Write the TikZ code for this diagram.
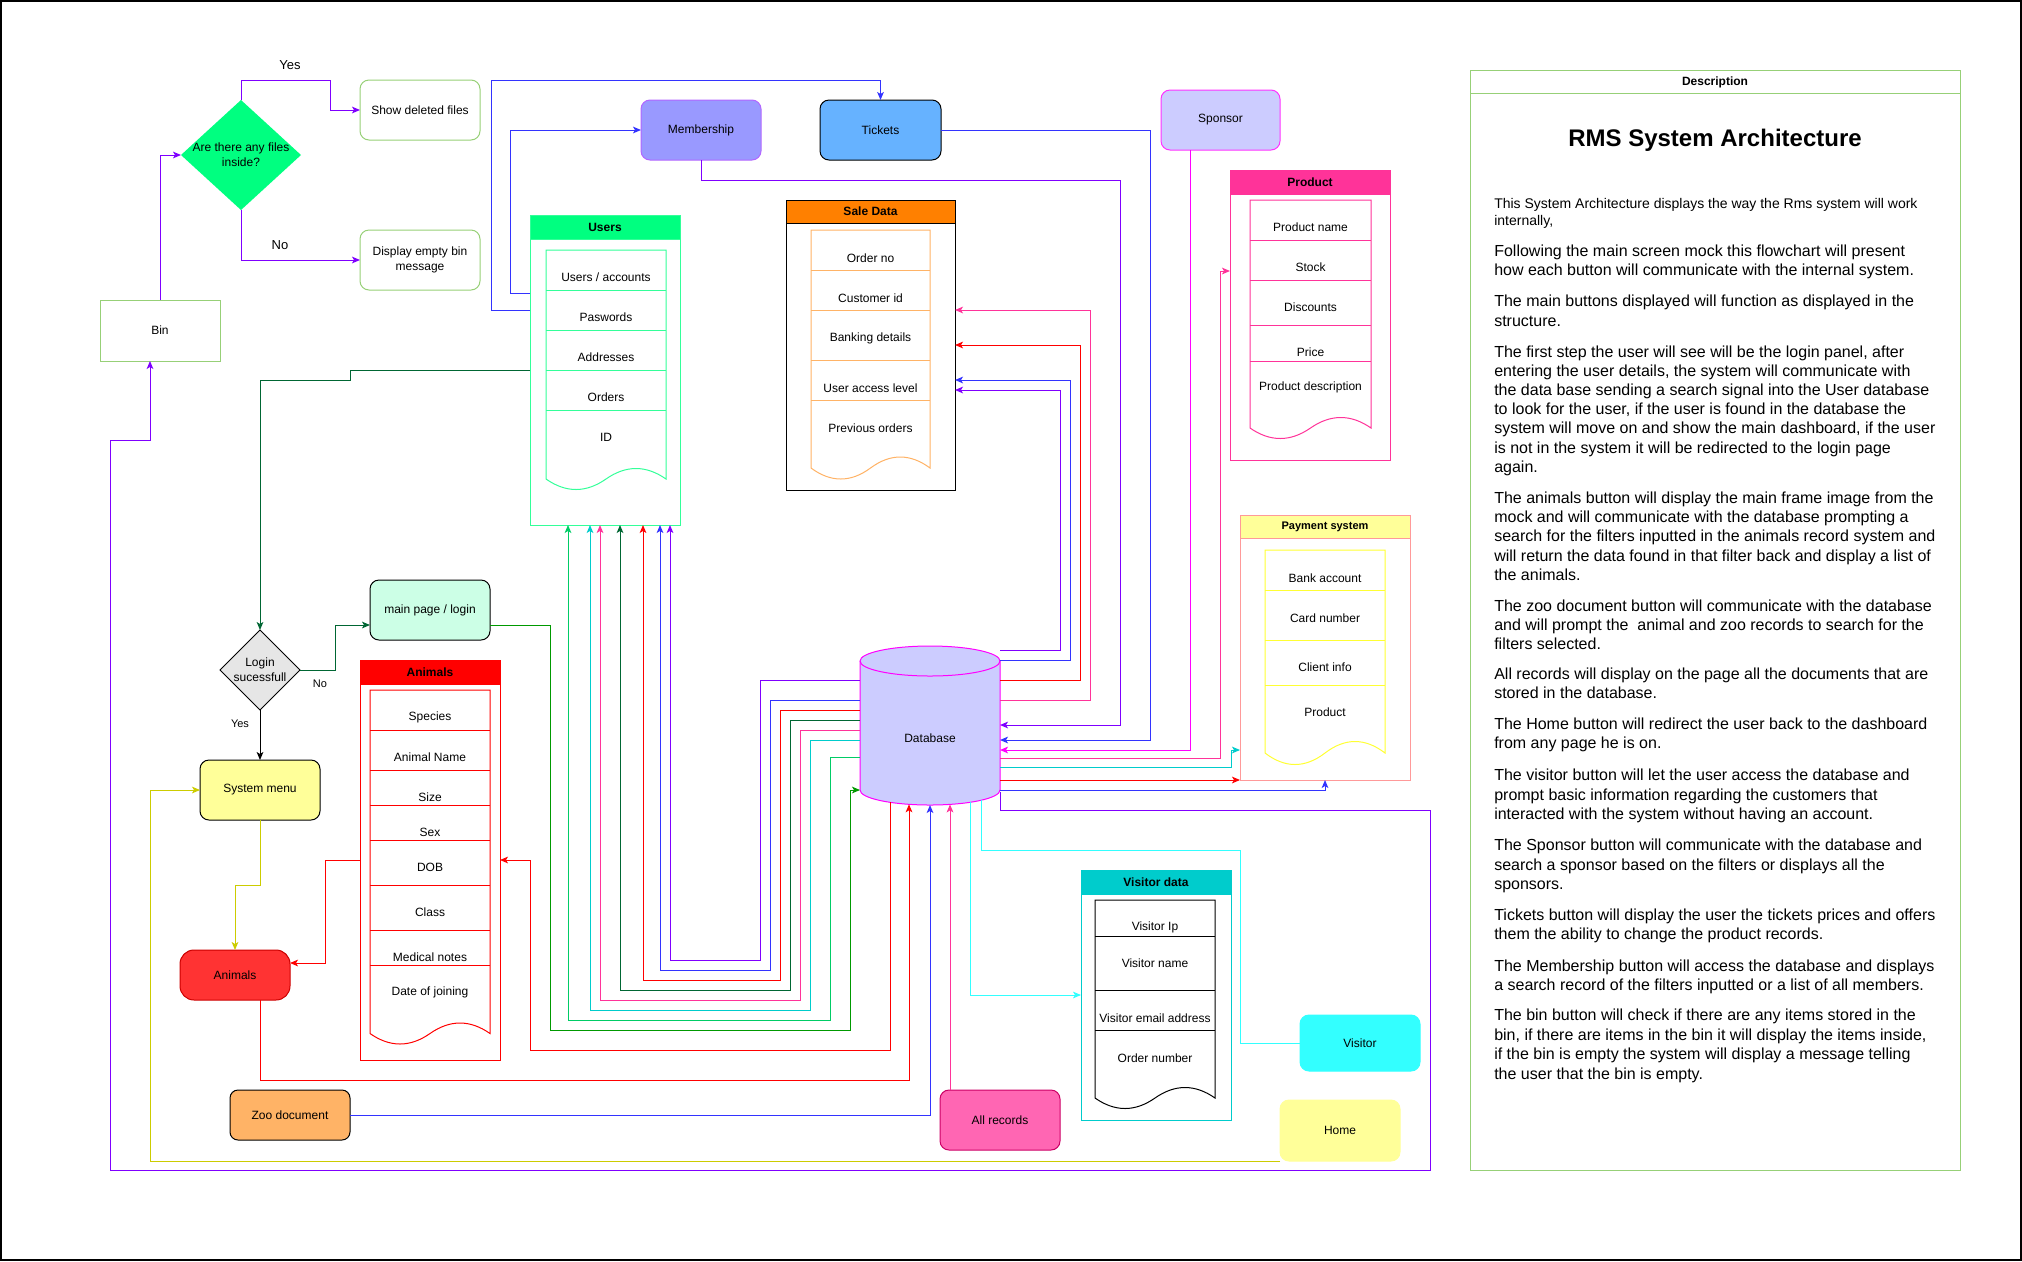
\documentclass[tikz,border=0pt]{standalone}
\usepackage{fontspec}
\setmainfont{Liberation Sans}
\usetikzlibrary{arrows.meta,shapes.geometric}

\definecolor{cPurple}{HTML}{7F00FF}
\definecolor{cBlue}{HTML}{3333FF}
\definecolor{cRed}{HTML}{FF0000}
\definecolor{cDkGreen}{HTML}{006633}
\definecolor{cPink}{HTML}{FF3399}
\definecolor{cCyan}{HTML}{00CCCC}
\definecolor{cLtGreen}{HTML}{00CC66}
\definecolor{cGreen}{HTML}{009900}
\definecolor{cYel}{HTML}{CCCC00}
\definecolor{cMag}{HTML}{FF00FF}
\definecolor{cAqua}{HTML}{33FFFF}
\definecolor{cBoxGreen}{HTML}{97D077}
\definecolor{cSpring}{HTML}{00FF80}
\definecolor{cUsersLine}{HTML}{33FF99}
\definecolor{cOrange}{HTML}{FF8000}
\definecolor{cLtOrange}{HTML}{FFB366}
\definecolor{cSalmon}{HTML}{FF9999}
\definecolor{cLtYellow}{HTML}{FFFF99}
\definecolor{cYellow}{HTML}{FFFF33}
\definecolor{cLav}{HTML}{CCCCFF}
\definecolor{cMembFill}{HTML}{9999FF}
\definecolor{cMembLine}{HTML}{B266FF}
\definecolor{cTickets}{HTML}{66B2FF}
\definecolor{cMint}{HTML}{CCFFE6}
\definecolor{cGray}{HTML}{E6E6E6}
\definecolor{cAnimBtn}{HTML}{FF3333}
\definecolor{cAnimBtnLine}{HTML}{CC0000}
\definecolor{cAllRec}{HTML}{FF66B3}
\definecolor{cAllRecLine}{HTML}{CC0066}
\definecolor{cSponsorLine}{HTML}{FF33FF}

% inner "document" column: x1, top, x2, end-y of wave, amplitude, colour
\newcommand{\docwave}[6]{%
  \draw[#6, line width=0.75pt, fill=white] (#1,#4) -- (#1,#2) -- (#3,#2) -- (#3,#4)
    .. controls ({#3-(#3-#1)/6},{#4-4*#5/3}) and ({(#1+#3)/2+(#3-#1)/6},{#4-4*#5/3}) .. ({(#1+#3)/2},#4)
    .. controls ({(#1+#3)/2-(#3-#1)/6},{#4+4*#5/3}) and ({#1+(#3-#1)/6},{#4+4*#5/3}) .. (#1,#4) -- cycle;}

\begin{document}
\begin{tikzpicture}[x=0.75pt,y=-0.75pt,
  ln/.style={line width=0.75pt},
  arr/.style={-{Stealth[length=6pt,width=5pt,inset=1.5pt]}},
  f11/.style={font=\fontsize{8.25}{10}\selectfont},
  f12/.style={font=\fontsize{9}{11.25}\selectfont},
  f13/.style={font=\fontsize{9.75}{12}\selectfont},
  hb/.style={font=\fontsize{9}{11}\selectfont\bfseries},
  nb/.style={anchor=north west, inner sep=0pt, outer sep=0pt, line width=0.75pt, align=center, f12},
  rbox/.style={nb, rounded corners=6.75pt, minimum width=90pt, minimum height=45pt},
  lab/.style={f12, inner sep=0pt, align=center},
  dt/.style={anchor=mid west, inner sep=0pt, font=\fontsize{12}{14}\selectfont},
  dts/.style={anchor=mid west, inner sep=0pt, font=\fontsize{10.5}{12.5}\selectfont}
]
\useasboundingbox (0,0) rectangle (2022,1261);
\draw[black, line width=1.5pt] (1,1) rectangle (2021,1260);

% ---------------- bin / question ----------------
\node[nb, draw=cBoxGreen, fill=white, minimum width=90pt, minimum height=45.75pt] (bin) at (100,300) {Bin};
\node[diamond, fill=cSpring, minimum width=90pt, minimum height=82.5pt, inner sep=0pt, outer sep=0pt] (qd) at (241,155) {};
\node[lab] (qdt) at (241,155) {Are there any files\\inside?};
\node[rbox, draw=cBoxGreen, fill=white] (show) at (360,80) {Show deleted files};
\node[rbox, draw=cBoxGreen, fill=white] (empty) at (360,230) {Display empty bin\\message};

% ---------------- top buttons ----------------
\node[rbox, draw=cMembLine, fill=cMembFill] (memb) at (641,100) {Membership};
\node[rbox, draw=black, fill=cTickets, minimum width=90.75pt] (tickets) at (820,100) {Tickets};
\node[rbox, draw=cSponsorLine, fill=cLav, minimum width=89.25pt] (sponsor) at (1161,90) {Sponsor};

% ---------------- Users table ----------------
\node[nb, draw=cUsersLine, fill=white, minimum width=112.5pt, minimum height=232.5pt] (users) at (530,215) {};
\node[nb, draw=cUsersLine, fill=cSpring, minimum width=112.5pt, minimum height=18pt, hb] (usersH) at (530,215) {Users};
\docwave{546}{250}{666}{479}{10.5}{cUsersLine}
\foreach \yy in {290,330,370,410} \draw[cUsersLine, ln] (546,\yy) -- (666,\yy);
\node[lab] (u1) at (606,277) {Users / accounts};
\node[lab] (u2) at (606,317) {Paswords};
\node[lab] (u3) at (606,357) {Addresses};
\node[lab] (u4) at (606,397) {Orders};
\node[lab] (u5) at (606,437) {ID};

% ---------------- Sale Data table ----------------
\node[nb, draw=black, fill=white, minimum width=126.75pt, minimum height=217.5pt] (sale) at (786,200) {};
\node[nb, draw=black, fill=cOrange, minimum width=126.75pt, minimum height=17.25pt, hb] (saleH) at (786,200) {Sale Data};
\docwave{811}{230}{930}{468}{11}{cLtOrange}
\foreach \yy in {270,310,360,400} \draw[cLtOrange, ln] (811,\yy) -- (930,\yy);
\node[lab] (s1) at (870.5,258) {Order no};
\node[lab] (s2) at (870.5,298) {Customer id};
\node[lab] (s3) at (870.5,338) {Banking details};
\node[lab] (s4) at (870.5,388) {User access level};
\node[lab] (s5) at (870.5,428) {Previous orders};

% ---------------- Product table ----------------
\node[nb, draw=cPink, fill=white, minimum width=120pt, minimum height=217.5pt] (product) at (1230,170) {};
\node[nb, draw=cPink, fill=cPink, minimum width=120pt, minimum height=18pt, hb] (productH) at (1230,170) {Product};
\docwave{1250}{200}{1371}{428}{10.5}{cPink}
\foreach \yy in {240,280,325,361} \draw[cPink, ln] (1250,\yy) -- (1371,\yy);
\node[lab] (p1) at (1310.5,227.5) {Product name};
\node[lab] (p2) at (1310.5,267.5) {Stock};
\node[lab] (p3) at (1310.5,307.5) {Discounts};
\node[lab] (p4) at (1310.5,352.5) {Price};
\node[lab] (p5) at (1310.5,387.5) {Product description};

% ---------------- Payment system table ----------------
\node[nb, draw=cSalmon, fill=white, minimum width=127.5pt, minimum height=198.75pt] (pay) at (1240,515) {};
\node[nb, draw=cSalmon, fill=cLtYellow, minimum width=127.5pt, minimum height=17.25pt, font=\fontsize{8.25}{10}\selectfont\bfseries] (payH) at (1240,515) {Payment system};
\docwave{1265}{550}{1385}{753}{11.5}{cYellow}
\foreach \yy in {590,640,685} \draw[cYellow, ln] (1265,\yy) -- (1385,\yy);
\node[lab] (y1) at (1325,578) {Bank account};
\node[lab] (y2) at (1325,618) {Card number};
\node[lab] (y3) at (1325,667) {Client info};
\node[lab] (y4) at (1325,712) {Product};

% ---------------- Visitor data table ----------------
\node[nb, draw=cCyan, fill=white, minimum width=112.5pt, minimum height=187.5pt] (vdata) at (1081,870) {};
\node[nb, draw=cCyan, fill=cCyan, minimum width=112.5pt, minimum height=18pt, hb] (vdataH) at (1081,870) {Visitor data};
\docwave{1095}{900}{1215}{1098}{10.5}{black}
\foreach \yy in {936,990,1030} \draw[black, ln] (1095,\yy) -- (1215,\yy);
\node[lab] (v1) at (1155,927) {Visitor Ip};
\node[lab] (v2) at (1155,963) {Visitor name};
\node[lab] (v3) at (1155,1018) {Visitor email address};
\node[lab] (v4) at (1155,1058) {Order number};

% ---------------- Animals table ----------------
\node[nb, draw=cRed, fill=white, minimum width=105pt, minimum height=300pt] (animtab) at (360,660) {};
\node[nb, draw=cRed, fill=cRed, minimum width=105pt, minimum height=18pt, hb] (animtabH) at (360,660) {Animals};
\docwave{370}{690}{490}{1033.5}{10.5}{cRed}
\foreach \yy in {730,770,805,840,885,930,965} \draw[cRed, ln] (370,\yy) -- (490,\yy);
\node[lab] (a1) at (430,717.5) {Species};
\node[lab] (a2) at (430,757.5) {Animal Name};
\node[lab] (a3) at (430,797.5) {Size};
\node[lab] (a4) at (430,832.7) {Sex};
\node[lab] (a5) at (430,867) {DOB};
\node[lab] (a6) at (430,912.6) {Class};
\node[lab] (a7) at (430,957.6) {Medical notes};
\node[lab] (a8) at (430,992.7) {Date of joining};

% ---------------- Database ----------------
\node[nb, minimum width=105pt, minimum height=119.25pt] (db) at (860,646) {};
\filldraw[fill=cLav, draw=cMag, ln] (860,661) -- (860,790)
  .. controls (860,798.28) and (891.34,805) .. (930,805)
  .. controls (968.66,805) and (1000,798.28) .. (1000,790) -- (1000,661)
  .. controls (1000,652.72) and (968.66,646) .. (930,646)
  .. controls (891.34,646) and (860,652.72) .. (860,661) -- cycle;
\draw[cMag, ln] (860,661) .. controls (860,669.28) and (891.34,676) .. (930,676)
  .. controls (968.66,676) and (1000,669.28) .. (1000,661);
\node[lab] (dbt) at (930,738) {Database};
\coordinate (dbb890) at (890,802.3);
\coordinate (dbb909) at (909,804.3);
\coordinate (dbb950) at (950,804.4);
\coordinate (dbb970) at (970,802.3);
\coordinate (dbb981) at (981,800.3);

% ---------------- left flow ----------------
\node[diamond, draw=black, fill=cGray, minimum width=60pt, minimum height=60pt, inner sep=0pt, outer sep=0pt, line width=0.75pt] (login) at (260,670) {};
\node[lab] (logint) at (260,670) {Login\\sucessfull};
\node[rbox, draw=black, fill=cMint] (main) at (370,580) {main page / login};
\node[rbox, draw=black, fill=cLtYellow] (sysm) at (200,760) {System menu};
\node[nb, draw=cAnimBtnLine, fill=cAnimBtn, rounded corners=10.5pt, minimum width=82.5pt, minimum height=37.5pt] (animbtn) at (180,950) {Animals};
\node[nb, draw=black, fill=cLtOrange, rounded corners=6pt, minimum width=90pt, minimum height=37.5pt] (zoo) at (230,1090) {Zoo document};
\node[rbox, draw=cAllRecLine, fill=cAllRec] (allrec) at (940,1090) {All records};
\node[rbox, draw=cAqua, fill=cAqua, minimum height=42pt] (visitor) at (1300,1015) {Visitor};
\node[rbox, draw=cLtYellow, fill=cLtYellow, minimum height=45.75pt] (home) at (1280,1100) {Home};

% ---------------- connectors: bin ----------------
\draw[ln,cPurple,arr] (bin.north) |- (qd.west);
\draw[ln,cPurple,arr] (qd.north) |- (330,80) |- (show.west);
\draw[ln,cPurple,arr] (qd.south) |- (empty.west);
\node[f13] (yes1) at (290,65) {Yes};
\node[f13] (no1) at (280,245) {No};
\draw[ln,cPurple,arr] (db.east |- 0,792) -- (1000,810) -- (1430,810) -- (1430,1170) -- (110,1170) -- (110,440) -- (150,440) -- (bin.south -| 150,0);

% ---------------- connectors: users ----------------
\draw[ln,cBlue,arr] (users.west |- 0,310) -- (491,310) -- (491,80) -| (tickets.north);
\draw[ln,cBlue,arr] (users.west |- 0,293) -- (510,293) |- (memb.west);
\draw[ln,cDkGreen,arr] (users.west |- 0,370) -- (350,370) -- (350,380) -| (login.north);

% ---------------- connectors: login flow ----------------
\draw[ln,cDkGreen,arr] (login.east) -- (335,670) |- (main.west |- 0,625);
\node[f11] (no2) at (320,684) {No};
\node[f11] (yes2) at (240,724) {Yes};
\draw[ln,black,arr] (login.south) -- (sysm.north);
\draw[ln,cYel,arr] (sysm.south) -- (260,885) -| (animbtn.north);
\draw[ln,cYel,arr] (home.south west) -| (150,790) -- (sysm.west);
\draw[ln,cRed,arr] (animtab.west |- 0,860) -- (325,860) -- (325,963) -- (animbtn.east |- 0,963);

% ---------------- connectors: database bottom ----------------
\draw[ln,cRed,arr] (dbb890) -- (890,1050) -- (530,1050) -- (530,860) -- (animtab.east |- 0,860);
\draw[ln,cRed,arr] (animbtn.south -| 260,0) -- (260,1080) -- (909,1080) -- (dbb909);
\draw[ln,cBlue,arr] (zoo.east) -| (db.south);
\draw[ln,cPink,arr] (allrec.north -| 950,0) -- (dbb950);
\draw[ln,cAqua,arr] (dbb970) -- (970,995) -- (vdata.west |- 0,995);
\draw[ln,cAqua] (visitor.west) -- (1240,1043) -- (1240,850) -- (981,850) -- (dbb981);

% ---------------- connectors: database to users ----------------
\draw[ln,cPurple,arr] (db.west |- 0,680) -- (760,680) -- (760,960) -| (users.south -| 670,0);
\draw[ln,cBlue,arr] (db.west |- 0,700) -- (770,700) -- (770,970) -| (users.south -| 660,0);
\draw[ln,cRed,arr] (db.west |- 0,710) -- (780,710) -- (780,980) -| (users.south -| 643,0);
\draw[ln,cDkGreen,arr] (db.west |- 0,720) -- (790,720) -- (790,990) -| (users.south -| 620,0);
\draw[ln,cPink,arr] (db.west |- 0,730) -- (800,730) -- (800,1000) -| (users.south -| 600,0);
\draw[ln,cCyan,arr] (db.west |- 0,740) -- (810,740) -- (810,1010) -| (users.south -| 590,0);
\draw[ln,cLtGreen,arr] (db.west |- 0,757) -- (830,757) -- (830,1020) -| (users.south -| 568,0);
\draw[ln,cGreen,arr] (main.east |- 0,625) -- (550,625) -- (550,1030) -- (850,1030) -- (850,790) -- (db.west |- 0,790);

% ---------------- connectors: database right ----------------
\draw[ln,cPurple,arr] (db.east |- 0,650) -- (1060,650) |- (sale.east |- 0,390);
\draw[ln,cBlue,arr] (db.east |- 0,660) -- (1070,660) |- (sale.east |- 0,380);
\draw[ln,cRed,arr] (db.east |- 0,680) -- (1080,680) |- (sale.east |- 0,345);
\draw[ln,cPink,arr] (db.east |- 0,700) -- (1090,700) |- (sale.east |- 0,310);
\draw[ln,cPurple,arr] (memb.south) -- (701,180) -- (1120,180) |- (db.east |- 0,725);
\draw[ln,cBlue,arr] (tickets.east) -- (1150,130) |- (db.east |- 0,740);
\draw[ln,cMag,arr] (sponsor.south -| 1190,0) |- (db.east |- 0,750);
\draw[ln,cPink,arr] (db.east |- 0,758) -- (1220,758) |- (product.west |- 0,271);
\draw[ln,cCyan,arr] (db.east |- 0,767) -- (1231,767) |- (pay.west |- 0,750);
\draw[ln,cRed,arr] (db.east |- 0,780) -- (pay.south west);
\draw[ln,cBlue,arr] (db.east |- 0,790) -| (pay.south);

% ---------------- Description ----------------
\node[nb, draw=cBoxGreen, minimum width=367.5pt, minimum height=825pt] (desc) at (1470,70) {};
\draw[ln,cBoxGreen] (desc.west |- 0,93) -- (desc.east |- 0,93);
\node[hb] (desch) at (1715,82) {Description};
\node[font=\fontsize{18}{21.6}\selectfont\bfseries] (title) at (1715,140) {RMS System Architecture};

\node[dts] (d1) at (1494,205) {This System Architecture displays the way the Rms system will work};
\node[dts] (d2) at (1494,222) {internally,};
\node[dt] (d3) at (1494,253) {Following the main screen mock this flowchart will present};
\node[dt] (d4) at (1494,272) {how each button will communicate with the internal system.};
\node[dt] (d5) at (1494,303) {The main buttons displayed will function as displayed in the};
\node[dt] (d6) at (1494,322.5) {structure.};
\node[dt] (d7) at (1494,353.6) {The first step the user will see will be the login panel, after};
\node[dt] (d8) at (1494,372.8) {entering the user details, the system will communicate with};
\node[dt] (d9) at (1494,392) {the data base sending a search signal into the User database};
\node[dt] (d10) at (1494,411.2) {to look for the user, if the user is found in the database the};
\node[dt] (d11) at (1494,430.4) {system will move on and show the main dashboard, if the user};
\node[dt] (d12) at (1494,449.6) {is not in the system it will be redirected to the login page};
\node[dt] (d13) at (1494,468.8) {again.};
\node[dt] (d14) at (1494,499.6) {The animals button will display the main frame image from the};
\node[dt] (d15) at (1494,518.9) {mock and will communicate with the database prompting a};
\node[dt] (d16) at (1494,538.2) {search for the filters inputted in the animals record system and};
\node[dt] (d17) at (1494,557.5) {will return the data found in that filter back and display a list of};
\node[dt] (d18) at (1494,576.8) {the animals.};
\node[dt] (d19) at (1494,607.5) {The zoo document button will communicate with the database};
\node[dt] (d20) at (1494,626.8) {and will prompt the\ \ animal and zoo records to search for the};
\node[dt] (d21) at (1494,646.1) {filters selected.};
\node[dt] (d22) at (1494,676) {All records will display on the page all the documents that are};
\node[dt] (d23) at (1494,695.3) {stored in the database.};
\node[dt] (d24) at (1494,726) {The Home button will redirect the user back to the dashboard};
\node[dt] (d25) at (1494,745.3) {from any page he is on.};
\node[dt] (d26) at (1494,777.3) {The visitor button will let the user access the database and};
\node[dt] (d27) at (1494,796.7) {prompt basic information regarding the customers that};
\node[dt] (d28) at (1494,816.1) {interacted with the system without having an account.};
\node[dt] (d29) at (1494,847.3) {The Sponsor button will communicate with the database and};
\node[dt] (d30) at (1494,866.7) {search a sponsor based on the filters or displays all the};
\node[dt] (d31) at (1494,886.1) {sponsors.};
\node[dt] (d32) at (1494,916.7) {Tickets button will display the user the tickets prices and offers};
\node[dt] (d33) at (1494,936.1) {them the ability to change the product records.};
\node[dt] (d34) at (1494,967.7) {The Membership button will access the database and displays};
\node[dt] (d35) at (1494,987.1) {a search record of the filters inputted or a list of all members.};
\node[dt] (d36) at (1494,1017.3) {The bin button will check if there are any items stored in the};
\node[dt] (d37) at (1494,1036.7) {bin, if there are items in the bin it will display the items inside,};
\node[dt] (d38) at (1494,1056.1) {if the bin is empty the system will display a message telling};
\node[dt] (d39) at (1494,1075.5) {the user that the bin is empty.};
\end{tikzpicture}
\end{document}
